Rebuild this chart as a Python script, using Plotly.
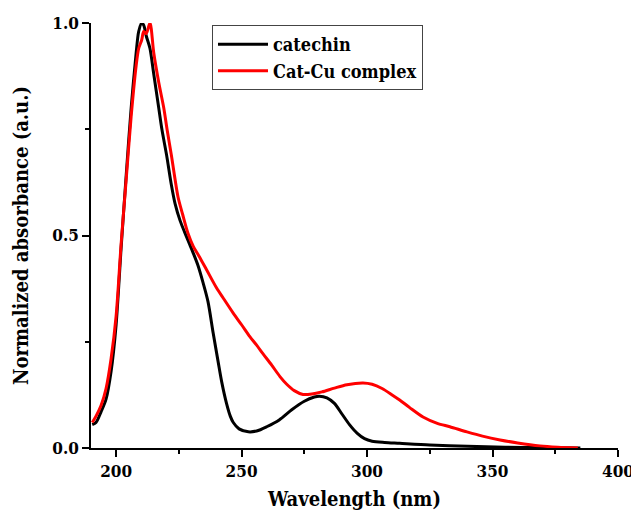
import plotly.graph_objects as go

# Catechin (black)
cat_wl = [190.5, 192, 194, 196, 198, 200, 202, 204, 206, 208, 209, 210.2, 211, 212, 213.5,
          215, 217, 218.3, 220.1, 222, 223.5, 225.5, 227.3, 229.4, 231, 232.6, 234.7,
          236.6, 238.7, 240.6, 242.1, 244, 245.5, 246.7, 249, 252.7, 256, 260, 265, 270, 275,
          279, 281, 284, 287, 290, 293, 296, 299, 302, 307, 313, 325, 340, 355, 370, 385]
cat_ab = [0.055, 0.06, 0.085, 0.115, 0.18, 0.29, 0.47, 0.64, 0.80, 0.93, 0.98, 1.0, 0.995,
          0.97, 0.94, 0.88, 0.80, 0.748, 0.69, 0.62, 0.575, 0.535, 0.508, 0.478, 0.455,
          0.43, 0.388, 0.345, 0.27, 0.205, 0.155, 0.105, 0.075, 0.06, 0.045, 0.038, 0.04,
          0.05, 0.066, 0.09, 0.11, 0.12, 0.122, 0.118, 0.105, 0.08, 0.055, 0.035, 0.022,
          0.016, 0.013, 0.011, 0.007, 0.004, 0.002, 0.001, 0.0]

# Cat-Cu complex (red)
cu_wl = [190.5, 192, 194, 196, 198, 200, 202, 204, 206, 208, 209, 210.2, 211, 212, 213.5,
         215, 217, 219, 220.3, 222, 224.7, 226.5, 228.6, 230.8, 233, 236, 240, 243, 246.6,
         250, 253.3, 256, 258.5, 262, 265.3, 268, 271, 274.5, 278, 282, 287, 292, 298.4, 302,
         306, 310, 313, 317, 322.3, 328, 333, 339.8, 346, 353, 360, 368.9, 376, 384]
cu_ab = [0.06, 0.075, 0.10, 0.14, 0.21, 0.31, 0.48, 0.63, 0.78, 0.90, 0.94, 0.96, 0.98,
         0.975, 1.0, 0.93, 0.86, 0.80, 0.75, 0.69, 0.59, 0.55, 0.506, 0.474, 0.452, 0.42,
         0.377, 0.35, 0.318, 0.29, 0.262, 0.242, 0.222, 0.195, 0.168, 0.15, 0.135, 0.126,
         0.127, 0.132, 0.141, 0.149, 0.153, 0.15, 0.14, 0.125, 0.113, 0.095, 0.073, 0.058,
         0.05, 0.038, 0.028, 0.019, 0.012, 0.005, 0.002, 0.0]

x_ticks = [200, 250, 300, 350, 400]
y_ticks = [0.0, 0.5, 1.0]
y_tick_text = ["0.0", "0.5", "1.0"]

FONT = "'DejaVu Serif Condensed', 'DejaVu Serif', serif"

fig = go.Figure()
fig.add_trace(go.Scatter(x=cat_wl, y=cat_ab, mode="lines", name="<b>catechin</b>",
                         line=dict(color="black", width=3, shape="spline", smoothing=0.8)))
fig.add_trace(go.Scatter(x=cu_wl, y=cu_ab, mode="lines", name="<b>Cat-Cu complex</b>",
                         line=dict(color="#ff0000", width=3, shape="spline", smoothing=0.8)))

fig.update_layout(
    width=631, height=514,
    margin=dict(l=91, r=13, t=23, b=66),
    plot_bgcolor="white", paper_bgcolor="white",
    font=dict(family=FONT, color="black"),
    showlegend=True,
    legend=dict(x=0.2296, y=0.995, xanchor="left", yanchor="top",
                bgcolor="white", bordercolor="#444", borderwidth=1,
                font=dict(family=FONT, size=18, color="black"),
                itemwidth=50),
    xaxis=dict(range=[190, 400], tickvals=x_ticks, ticktext=[f"<b>{v}</b>" for v in x_ticks],
               automargin=False, ticklabeloverflow="allow",
               showgrid=False, zeroline=False, showline=True, linecolor="black", linewidth=1.5,
               ticks="outside", ticklen=7, tickwidth=1.5, tickcolor="black",
               tickfont=dict(family=FONT, size=17, color="black"),
               minor=dict(tickvals=[225, 275, 325, 375], ticks="outside", ticklen=4,
                          tickwidth=1.5, tickcolor="black"),
               title=dict(text="<b>Wavelength (nm)</b>", font=dict(family=FONT, size=20),
                          standoff=12)),
    yaxis=dict(range=[0, 1.0], tickvals=y_ticks, ticktext=[f"<b>{t}</b>" for t in y_tick_text],
               automargin=False,
               showgrid=False, zeroline=False, showline=True, linecolor="black", linewidth=1.5,
               ticks="outside", ticklen=7, tickwidth=1.5, tickcolor="black",
               tickfont=dict(family=FONT, size=17, color="black"),
               minor=dict(tickvals=[0.25, 0.75], ticks="outside", ticklen=4,
                          tickwidth=1.5, tickcolor="black"),
               title=dict(text="<b>Normalized absorbance (a.u.)</b>",
                          font=dict(family=FONT, size=20), standoff=18)),
)

fig.write_html("out.html")
